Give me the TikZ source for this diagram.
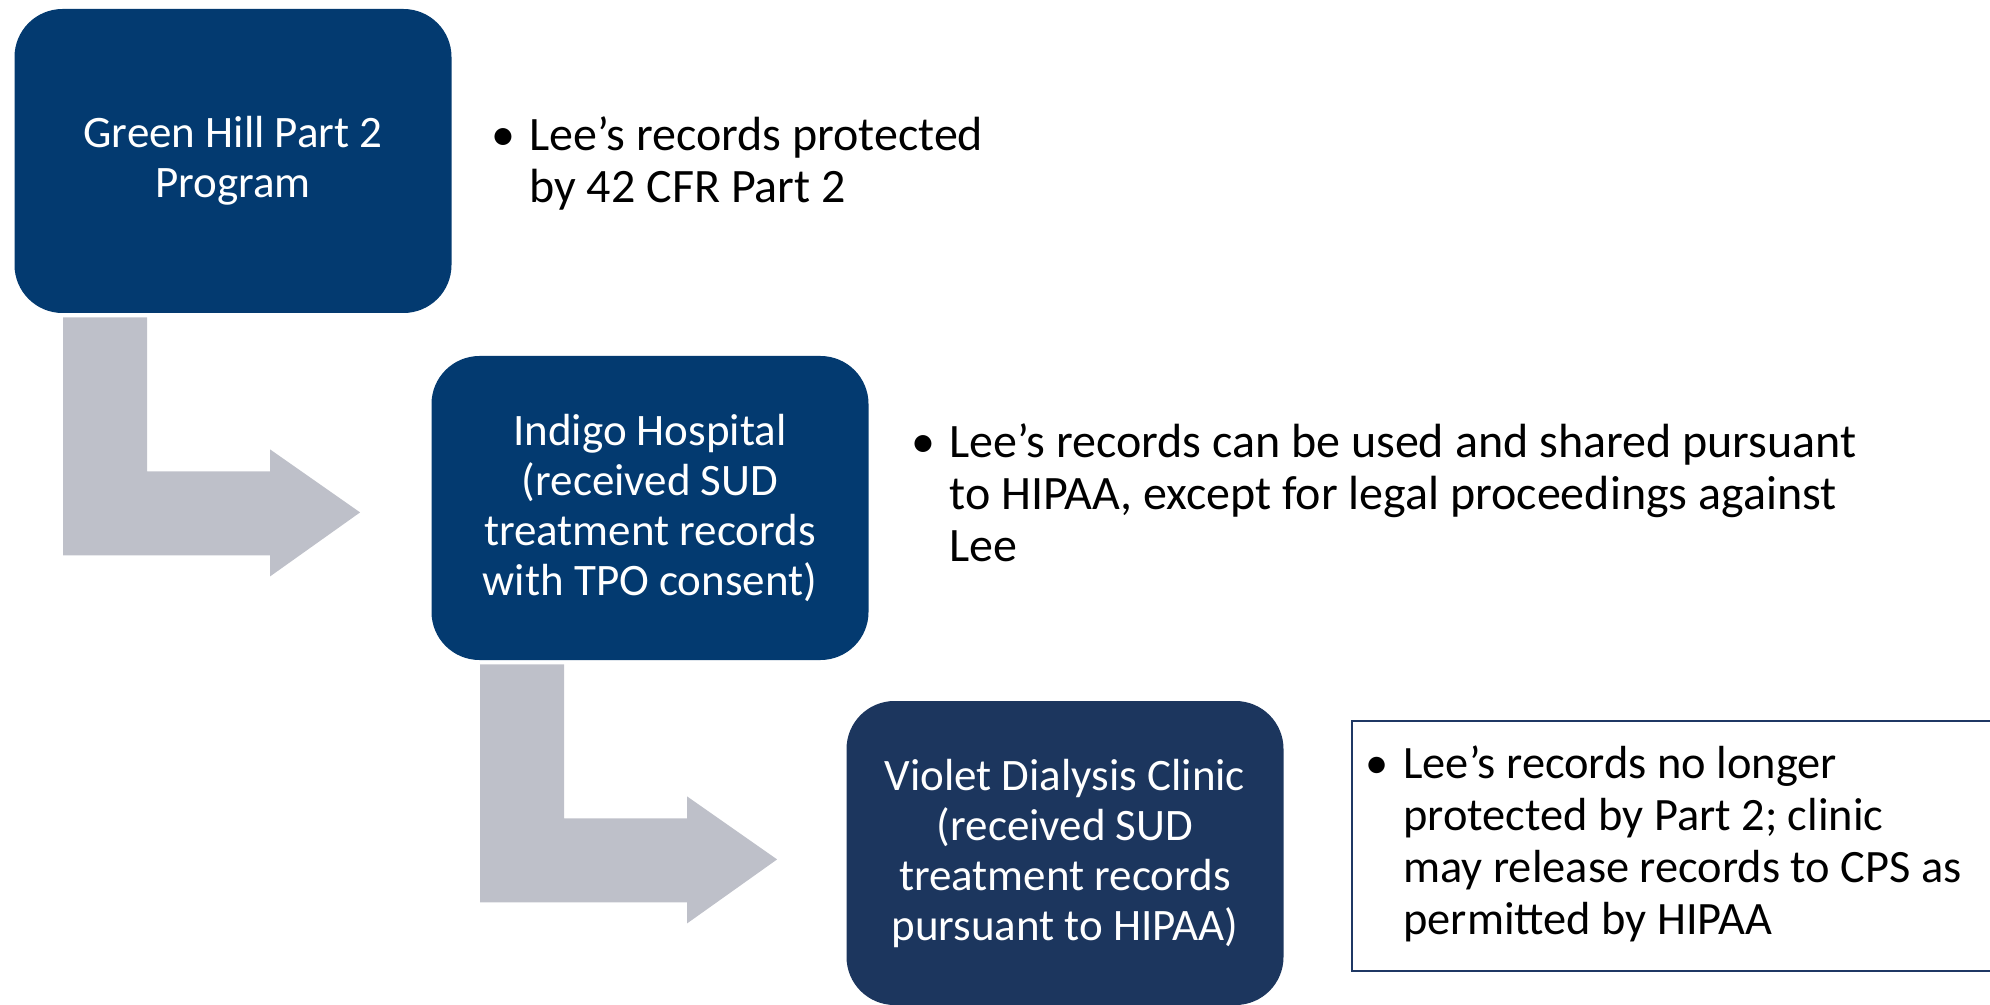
\documentclass[tikz,border=0pt]{standalone}
\usepackage{fontspec}
\setmainfont{Carlito}
\usetikzlibrary{calc}
\definecolor{partblue}{RGB}{3,58,112}
\definecolor{hipaablue}{RGB}{28,54,94}
\definecolor{arrowgray}{RGB}{190,192,201}
\definecolor{framegray}{RGB}{31,56,100}
\tikzset{
	stagebox/.style={rounded corners=24pt, fill=partblue, text=white, minimum width=218.5pt,
		minimum height=152pt, align=center, inner sep=0pt, font=\fontsize{22.5}{25}\selectfont},
	note/.style={anchor=north west, inner sep=0pt, font=\fontsize{#1}{26}\selectfont},
	note/.default=24,
	bentarrow/.pic={
		\fill[arrowgray] (0,0) -- (84,0) -- (84,154) -- (207,154) -- (207,132) -- (297,195)
			-- (207,259) -- (207,238) -- (0,238) -- cycle;
	},
}
\newenvironment{notelist}{\begin{tabular}{@{}p{13pt}@{}l@{}}}{\end{tabular}}
\newcommand{\notedot}{\makebox[0pt]{\textbullet}}

\begin{document}
\begin{tikzpicture}[x=0.5pt, y=-0.5pt]
	\useasboundingbox (0,0) rectangle (1990,1005);
	% the three stages
	\node[stagebox] (greenhill) at (233,161) {Green Hill Part 2\\Program};
	\node[stagebox] (indigo) at (650,508) {Indigo Hospital\\(received SUD\\treatment records\\with TPO consent)};
	\node[stagebox, fill=hipaablue] (violet) at (1065,853) {Violet Dialysis Clinic\\(received SUD\\treatment records\\pursuant to HIPAA)};
	
	% bent arrows between stages
	\pic at ($(greenhill.south west)+(49,4)$) {bentarrow};
	\pic at ($(indigo.south west)+(49,4)$) {bentarrow};
	
	% notes
	\node[note] (protected) at (503,113.6) {\begin{notelist}
		\notedot & Lee’s records protected\\
		& by 42 CFR Part 2
	\end{notelist}};
	\node[note] (shared) at (923,420.6) {\begin{notelist}
		\notedot & Lee’s records can be used and shared pursuant\\
		& to HIPAA, except for legal proceedings against\\
		& Lee
	\end{notelist}};
	\node[draw=framegray, line width=1pt, anchor=north west, minimum width=322pt, minimum height=125pt, inner sep=0pt] (cpsframe) at (1351,720) {};
	\node[note=23.2] (released) at ($(cpsframe.north west)+(26,21.6)$) {\begin{notelist}
		\notedot & Lee’s records no longer\\
		& protected by Part 2; clinic\\
		& may release records to CPS as\\
		& permitted by HIPAA
	\end{notelist}};
\end{tikzpicture}
\end{document}
